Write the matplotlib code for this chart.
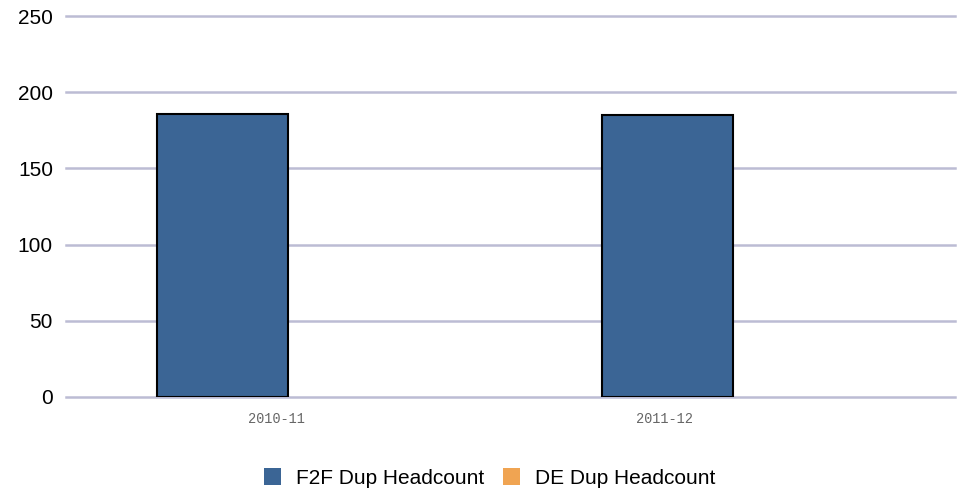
import matplotlib
matplotlib.use("Agg")
import matplotlib.pyplot as plt
from matplotlib.patches import Patch
import numpy as np

categories = ["2010-11", "2011-12"]
f2f_dup = [186, 185]
de_dup = [0, 0]
series_names = ["F2F Dup Headcount", "DE Dup Headcount"]
colors = ["#3b6595", "#f0a452"]
y_ticks = [0, 50, 100, 150, 200, 250]

plt.rcParams['font.family'] = ['Liberation Sans', 'DejaVu Sans']

fig = plt.figure(figsize=(9.66, 4.92), dpi=100)
ax = fig.add_axes([66/966, 1-397/492, (955-66)/966, (397-16)/492])

x = np.arange(len(categories))
w = 0.295
ax.bar(x, f2f_dup, width=-w, align='edge', color=colors[0], edgecolor='black', linewidth=1.5, zorder=3)
ax.bar(x, de_dup, width=w, align='edge', color=colors[1], edgecolor='black', linewidth=0, zorder=3)

ax.set_xlim(-0.5, 1.5)
ax.set_ylim(0, 250)
ax.set_yticks(y_ticks)
ax.set_yticklabels([str(v) for v in y_ticks], fontsize=15)
ax.yaxis.grid(True, color='#bcbcd4', linewidth=1.8, zorder=0)
for gl in ax.get_ygridlines():
    gl.set_clip_on(False)
ax.set_axisbelow(True)
ax.tick_params(axis='y', length=0, pad=9.4)
ax.tick_params(axis='x', length=0, pad=11)
ax.set_xticks([-0.027, 1 - 0.153])
ax.set_xticklabels(categories, fontsize=9.8, family=['Liberation Mono'], color='#666666')
for s in ax.spines.values():
    s.set_visible(False)

handles = [Patch(facecolor=c, edgecolor='none') for c in colors]
fig.legend(handles, series_names, loc='center', bbox_to_anchor=(490/966, 1-478/492),
           ncol=2, frameon=False, fontsize=15, handlelength=0.82, handleheight=0.82,
           handletextpad=0.72, columnspacing=0.9, borderpad=0)

fig.savefig("out.png", dpi=100)
